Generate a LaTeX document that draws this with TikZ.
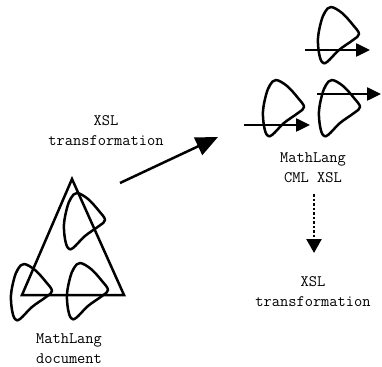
\documentclass[tikz,border=0pt]{standalone}
\usetikzlibrary{arrows.meta}

\tikzset{
  lbl/.style={font=\fontsize{16}{20}\selectfont\ttfamily, align=center, inner sep=0pt},
  stroke/.style={line width=2.5pt, line join=round},
  wisp/.pic={
    \draw[stroke] plot[smooth cycle, tension=0.6] coordinates
      {(-6,-28) (5,-22) (16,-10) (22,-1) (16,5) (2,15) (-10,27) (-15,27)
       (-18,18) (-19,3) (-16,-13) (-12,-23)};
  },
}

\begin{document}
\begin{tikzpicture}[x=1pt, y=-1pt]
\useasboundingbox (0,0) rectangle (382,366);

% document triangle with its pieces
\draw[stroke, line join=miter] (72,179) -- (124,295) -- (22,295) -- cycle;
\pic at (83,221) {wisp};
\pic at (30,292) {wisp};
\pic at (86,291) {wisp};

% stylesheet pieces on the right
\pic at (337,35) {wisp};
\pic at (282,108) {wisp};
\pic at (338,108) {wisp};

\coordinate (t1) at (305,50);
\coordinate (t1e) at (370,50);
\coordinate (t2) at (244,125);
\coordinate (t2e) at (310,125);
\coordinate (t3) at (317,94);
\coordinate (t3e) at (381,94);
\draw[stroke, -{Triangle[length=14pt, width=13pt]}] (t1) -- (t1e);
\draw[stroke, -{Triangle[length=14pt, width=13pt]}] (t2) -- (t2e);
\draw[stroke, -{Triangle[length=14pt, width=13pt]}] (t3) -- (t3e);

% labels
\node[lbl] (xsl1) at (106,131) {XSL\\transformation};
\node[lbl] (cml) at (313,168) {MathLang\\CML XSL};
\node[lbl] (xsl2) at (313,292) {XSL\\transformation};
\node[lbl] (doc) at (69,349) {MathLang\\document};

% transformation arrows
\coordinate (m1) at (120,183);
\coordinate (m2) at (218,137);
\draw[stroke, -{Triangle[length=22pt, width=19pt]}] (m1) -- (m2);

\coordinate (d1) at (314,194);
\coordinate (d2) at (314,253);
\draw[line width=2.5pt, dash pattern=on 2.5pt off 2pt, -{Triangle[length=14pt, width=15pt]}] (d1) -- (d2);
\end{tikzpicture}
\end{document}
